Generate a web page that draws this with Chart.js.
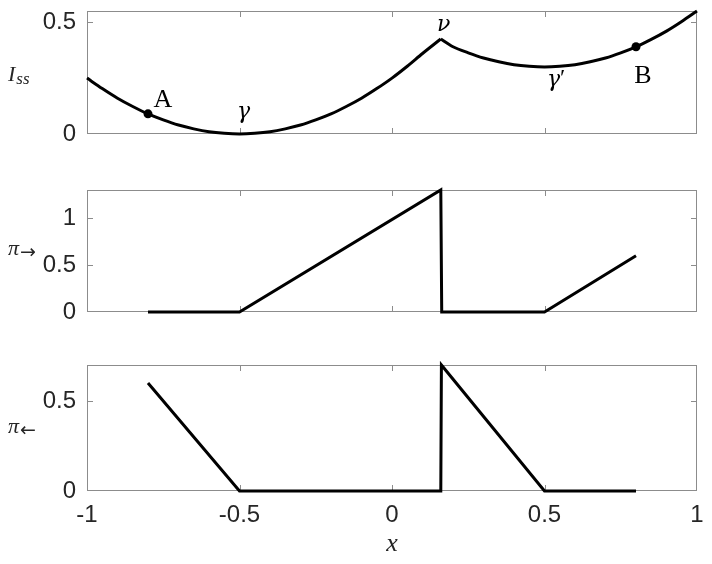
<!DOCTYPE html>
<html lang="en">

<head>
  <meta charset="UTF-8">
  <title>Iss, pi right, pi left</title>
  <script src="https://cdn.jsdelivr.net/npm/chart.js"></script>
  <style>
    body { margin: 0; background: #fff; }
    #wrap { position: relative; width: 712px; height: 564px; }
    #wrap canvas { position: absolute; left: 0; top: 0; }
  </style>
</head>

<body>
  <div id="wrap">
    <canvas id="graf_iss" width="712" height="564"></canvas>
    <canvas id="graf_dir" width="712" height="564"></canvas>
    <canvas id="graf_esq" width="712" height="564"></canvas>
  </div>

<script>
  // shared x axis
  var xTicks = [-1, -0.5, 0, 0.5, 1];

  // top panel: I_ss, split at the kink (nu)
  var issLeftX = [-1, -0.95, -0.9, -0.85, -0.8, -0.75, -0.7, -0.65, -0.6, -0.55, -0.5, -0.45, -0.4, -0.35, -0.3, -0.25, -0.2, -0.15, -0.1, -0.05, 0, 0.05, 0.1, 0.16];
  var issLeftY = [0.25, 0.203, 0.16, 0.123, 0.09, 0.063, 0.04, 0.023, 0.01, 0.003, 0, 0.003, 0.01, 0.023, 0.04, 0.063, 0.09, 0.123, 0.16, 0.203, 0.25, 0.303, 0.36, 0.425];
  var issRightX = [0.16, 0.2, 0.25, 0.3, 0.35, 0.4, 0.45, 0.5, 0.55, 0.6, 0.65, 0.7, 0.75, 0.8, 0.85, 0.9, 0.95, 1];
  var issRightY = [0.425, 0.39, 0.363, 0.34, 0.323, 0.31, 0.303, 0.3, 0.303, 0.31, 0.323, 0.34, 0.363, 0.39, 0.423, 0.46, 0.503, 0.55];
  var issMax = 0.55;
  var issTicks = [0, 0.5];

  // marked states A and B
  var markNames = ['A', 'B'];
  var markX = [-0.8, 0.8];
  var markY = [0.09, 0.39];

  // special points gamma, nu, gamma'
  var pointNames = ['γ', 'ν', 'γ′'];
  var pointX = [-0.5, 0.16, 0.5];
  var pointY = [0, 0.425, 0.3];

  // middle panel: pi right
  var piRightX = [-0.8, -0.5, 0.16, 0.163, 0.5, 0.8];
  var piRightY = [0, 0, 1.3, 0, 0, 0.6];
  var piRightMax = 1.3;
  var piRightTicks = [0, 0.5, 1];

  // bottom panel: pi left
  var piLeftX = [-0.8, -0.5, 0.16, 0.162, 0.5, 0.8];
  var piLeftY = [0.6, 0, 0, 0.7, 0, 0];
  var piLeftMax = 0.7;
  var piLeftTicks = [0, 0.5];

  var grey = '#8c8c8c';
  var ink = '#262626';
  var sans = '"Liberation Sans", Arial, sans-serif';
  var serif = '"Liberation Serif", "Times New Roman", serif';
  var greek = '"DejaVu Serif", serif';
  var tickFont = { family: sans, size: 24, lineHeight: 0.9 };

  function pares(xs, ys) {
    var out = [];
    for (var i = 0; i < xs.length; i++) out.push({ x: xs[i], y: ys[i] });
    return out;
  }

  function linha(xs, ys, tension) {
    return {
      data: pares(xs, ys),
      showLine: true,
      borderColor: '#000',
      borderWidth: 3,
      pointRadius: 0,
      tension: tension || 0,
      clip: false
    };
  }

  // matlab-like box with inward ticks
  var moldura = {
    id: 'moldura',
    beforeDatasetsDraw: function (chart) {
      var ctx = chart.ctx, a = chart.chartArea;
      var sx = chart.scales.x, sy = chart.scales.y;
      var L = Math.round(a.left), T = Math.round(a.top), R = Math.round(a.right), B = Math.round(a.bottom);
      ctx.save();
      ctx.strokeStyle = grey;
      ctx.lineWidth = 1;
      ctx.strokeRect(L + 0.5, T + 0.5, R - L - 1, B - T - 1);
      ctx.beginPath();
      xTicks.forEach(function (v) {
        if (v <= sx.min || v >= sx.max) return;
        var px = Math.round(sx.getPixelForValue(v)) + 0.5;
        ctx.moveTo(px, B); ctx.lineTo(px, B - 6);
        ctx.moveTo(px, T); ctx.lineTo(px, T + 6);
      });
      sy.ticks.forEach(function (t) {
        if (t.value <= sy.min || t.value >= sy.max) return;
        var py = Math.round(sy.getPixelForValue(t.value)) + 0.5;
        ctx.moveTo(L, py); ctx.lineTo(L + 6, py);
        ctx.moveTo(R, py); ctx.lineTo(R - 6, py);
      });
      ctx.stroke();
      ctx.restore();
    }
  };

  // y label drawn horizontally: main symbol + subscript
  function rotuloY(chart, main, mainFont, sub, subFont, dy, subDy) {
    var ctx = chart.ctx, a = chart.chartArea;
    var meio = (a.top + a.bottom) / 2;
    ctx.save();
    ctx.fillStyle = ink;
    ctx.textAlign = 'left';
    ctx.textBaseline = 'alphabetic';
    ctx.font = mainFont;
    ctx.fillText(main, 8, meio + dy);
    var w = ctx.measureText(main).width;
    ctx.font = subFont;
    ctx.fillText(sub, 8 + w + 1, meio + dy + subDy);
    ctx.restore();
  }

  function painel(id, datasets, yMax, yTicks, padTop, padBottom, comEixoX, extra) {
    var ctx = document.getElementById(id).getContext('2d');
    var xScale = {
      type: 'linear', min: -1, max: 1,
      display: comEixoX,
      afterBuildTicks: function (s) { s.ticks = xTicks.map(function (v) { return { value: v }; }); },
      grid: { display: false, drawTicks: false },
      border: { display: false },
      ticks: { font: tickFont, color: ink, padding: 14, maxRotation: 0, autoSkip: false, callback: function (v) { return String(v); } }
    };
    if (comEixoX) {
      xScale.afterFit = function (s) { s.height = 73; s.paddingLeft = 0; s.paddingRight = 0; };
      xScale.title = { display: true, text: 'x', color: ink, font: { family: serif, style: 'italic', size: 26, lineHeight: 1.2 }, padding: { top: 0, bottom: 4 } };
    }
    return new Chart(ctx, {
      type: 'scatter',
      data: { datasets: datasets },
      options: {
        responsive: false,
        animation: false,
        events: [],
        layout: { padding: { top: padTop, bottom: padBottom, left: 0, right: 15 } },
        plugins: { legend: { display: false }, tooltip: { enabled: false } },
        scales: {
          x: xScale,
          y: {
            type: 'linear', min: 0, max: yMax,
            afterBuildTicks: function (s) { s.ticks = yTicks.map(function (v) { return { value: v }; }); },
            afterFit: function (s) { s.width = 87; s.paddingTop = 0; s.paddingBottom = 0; },
            grid: { display: false, drawTicks: false },
            border: { display: false },
            ticks: { font: tickFont, color: ink, padding: 11, callback: function (v) { return String(v); } }
          }
        }
      },
      plugins: [moldura, { id: id + '_txt', afterDraw: extra }]
    });
  }

  // top panel
  var marcas = {
    data: pares(markX, markY),
    pointRadius: 4.5,
    pointBackgroundColor: '#000',
    pointBorderWidth: 0,
    showLine: false,
    clip: false
  };
  var offMarca = [[15, -7], [7, 36]];
  var offPonto = [[4, -16], [3, -8], [9, 19]];

  painel('graf_iss', [linha(issLeftX, issLeftY, 0.3), linha(issRightX, issRightY, 0.3), marcas],
    issMax, issTicks, 11, 430, false, function (chart) {
      var ctx = chart.ctx, sx = chart.scales.x, sy = chart.scales.y;
      ctx.save();
      ctx.fillStyle = '#000';
      ctx.textAlign = 'center';
      ctx.textBaseline = 'alphabetic';
      ctx.font = '26px ' + serif;
      for (var i = 0; i < markNames.length; i++) {
        ctx.fillText(markNames[i], sx.getPixelForValue(markX[i]) + offMarca[i][0], sy.getPixelForValue(markY[i]) + offMarca[i][1]);
      }
      for (var j = 0; j < pointNames.length; j++) {
        var cx = sx.getPixelForValue(pointX[j]) + offPonto[j][0];
        var cy = sy.getPixelForValue(pointY[j]) + offPonto[j][1];
        var base = pointNames[j].replace('′', '');
        ctx.font = 'italic 22px ' + greek;
        ctx.textAlign = 'center';
        ctx.fillText(base, cx, cy);
        if (base !== pointNames[j]) {
          var w = ctx.measureText(base).width;
          ctx.font = '24px ' + serif;
          ctx.textAlign = 'left';
          ctx.fillText('′', cx + w / 2, cy - 1);
        }
      }
      ctx.restore();
      rotuloY(chart, 'I', 'italic 22px ' + serif, 'ss', 'italic 17px ' + serif, 8, 3);
    });

  // middle panel
  painel('graf_dir', [linha(piRightX, piRightY)], piRightMax, piRightTicks, 190, 252, false, function (chart) {
    rotuloY(chart, 'π', 'italic 22px ' + serif, '→', '19px "DejaVu Sans", sans-serif', 4, 3);
  });

  // bottom panel
  painel('graf_esq', [linha(piLeftX, piLeftY)], piLeftMax, piLeftTicks, 365, 0, true, function (chart) {
    rotuloY(chart, 'π', 'italic 22px ' + serif, '←', '19px "DejaVu Sans", sans-serif', 5, 3);
  });
</script>
</body>

</html>
